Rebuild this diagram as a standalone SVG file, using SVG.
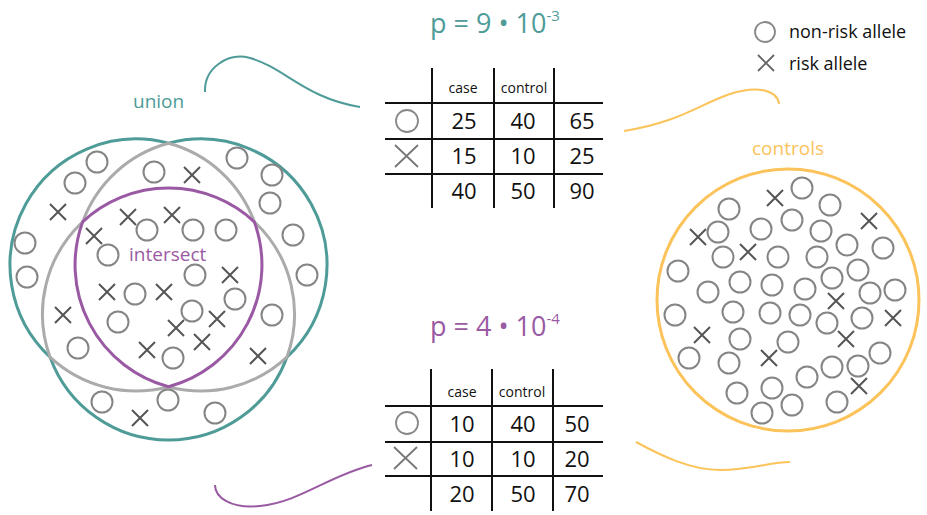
<svg xmlns="http://www.w3.org/2000/svg" width="927" height="515" viewBox="0 0 927 515">
<style>
.o{fill:none;stroke:#858585;stroke-width:2}
.x{stroke:#555;stroke-width:2;fill:none}
.g{stroke:#111;stroke-width:2;fill:none}
.t{font-family:"Open Sans","Liberation Sans",sans-serif;fill:#111}
.big{font-size:22px;text-anchor:middle}
.hd{font-size:14px;text-anchor:middle}
</style>
<defs>
<circle id="c" r="10.5" class="o"/>
<path id="k" d="M-8,-8L8,8M8,-8L-8,8" class="x"/>
</defs>
<rect width="927" height="515" fill="#fff"/>

<g id="venn">
<path d="M168.5,143.3 A126,126 0 0 0 50.1,357.2 A126,126 0 0 0 286.9,357.2 A126,126 0 0 0 168.5,143.3 Z" fill="none" stroke="#4E9B98" stroke-width="3"/>
<path d="M168.5,143.3 A126,126 0 0 0 82.7,221.8 A126,126 0 0 0 50.1,357.2 A126,126 0 0 0 168.5,386.7 A126,126 0 0 0 286.9,357.2 A126,126 0 0 0 254.3,221.8 A126,126 0 0 0 168.5,143.3 Z" fill="none" stroke="#ABABAB" stroke-width="3"/>
<path d="M82.7,221.8 A126,126 0 0 1 254.3,221.8 A126,126 0 0 1 168.5,386.7 A126,126 0 0 1 82.7,221.8 Z" fill="none" stroke="#9A5AA3" stroke-width="3"/>
<text x="133" y="108" font-family="Open Sans, Liberation Sans, sans-serif" font-size="19" fill="#4E9B98">union</text>
<text x="129" y="261" font-family="Open Sans, Liberation Sans, sans-serif" font-size="19" fill="#9A5AA3">intersect</text>
<use href="#c" x="97" y="162"/><use href="#c" x="75" y="183"/><use href="#c" x="154" y="172"/>
<use href="#c" x="237" y="158"/><use href="#c" x="272" y="175"/><use href="#c" x="270" y="203"/>
<use href="#c" x="147" y="230"/><use href="#c" x="193" y="230"/><use href="#c" x="226" y="230"/>
<use href="#c" x="293" y="235"/><use href="#c" x="25" y="243"/><use href="#c" x="108" y="255"/>
<use href="#c" x="27" y="277"/><use href="#c" x="135" y="294"/><use href="#c" x="195" y="275"/>
<use href="#c" x="307" y="275"/><use href="#c" x="235" y="299"/><use href="#c" x="192" y="311"/>
<use href="#c" x="272" y="315"/><use href="#c" x="118" y="322"/><use href="#c" x="78" y="348"/>
<use href="#c" x="173" y="358"/><use href="#c" x="102" y="402"/><use href="#c" x="168" y="400"/>
<use href="#c" x="215" y="413"/>
<use href="#k" x="58" y="212"/><use href="#k" x="128" y="217"/><use href="#k" x="192" y="175"/>
<use href="#k" x="172" y="215"/><use href="#k" x="94" y="236"/><use href="#k" x="230" y="275"/>
<use href="#k" x="107" y="292"/><use href="#k" x="164" y="292"/><use href="#k" x="63" y="315"/>
<use href="#k" x="217" y="319"/><use href="#k" x="176" y="328"/><use href="#k" x="202" y="342"/>
<use href="#k" x="147" y="350"/><use href="#k" x="258" y="356"/><use href="#k" x="140" y="418"/>
</g>

<g id="controls">
<circle cx="788" cy="300" r="131" fill="none" stroke="#FBC35A" stroke-width="3"/>
<text x="752" y="155" font-family="Open Sans, Liberation Sans, sans-serif" font-size="19" fill="#FBC35A">controls</text>
<use href="#c" x="729" y="209"/><use href="#c" x="718" y="232"/><use href="#c" x="761" y="229"/>
<use href="#c" x="792" y="220"/><use href="#c" x="802" y="188"/><use href="#c" x="830" y="205"/>
<use href="#c" x="821" y="231"/><use href="#c" x="847" y="245"/><use href="#c" x="883" y="248"/>
<use href="#c" x="723" y="257"/><use href="#c" x="778" y="257"/><use href="#c" x="817" y="257"/>
<use href="#c" x="858" y="270"/><use href="#c" x="678" y="271"/><use href="#c" x="740" y="282"/>
<use href="#c" x="772" y="285"/><use href="#c" x="805" y="289"/><use href="#c" x="832" y="278"/>
<use href="#c" x="870" y="293"/><use href="#c" x="895" y="290"/><use href="#c" x="708" y="292"/>
<use href="#c" x="675" y="315"/><use href="#c" x="733" y="312"/><use href="#c" x="770" y="313"/>
<use href="#c" x="800" y="315"/><use href="#c" x="827" y="323"/><use href="#c" x="862" y="318"/>
<use href="#c" x="740" y="339"/><use href="#c" x="788" y="342"/><use href="#c" x="880" y="353"/>
<use href="#c" x="689" y="358"/><use href="#c" x="729" y="363"/><use href="#c" x="832" y="367"/>
<use href="#c" x="858" y="366"/><use href="#c" x="737" y="393"/><use href="#c" x="772" y="388"/>
<use href="#c" x="807" y="377"/><use href="#c" x="762" y="413"/><use href="#c" x="792" y="405"/>
<use href="#c" x="837" y="402"/>
<use href="#k" x="775" y="198"/><use href="#k" x="869" y="221"/><use href="#k" x="698" y="237"/>
<use href="#k" x="748" y="252"/><use href="#k" x="836" y="301"/><use href="#k" x="893" y="318"/>
<use href="#k" x="702" y="335"/><use href="#k" x="846" y="339"/><use href="#k" x="769" y="358"/>
<use href="#k" x="859" y="386"/>
</g>

<g id="table1">
<text x="430" y="33" font-family="Open Sans, Liberation Sans, sans-serif" font-size="27" fill="#4E9B98">p = 9 • 10<tspan font-size="15" dy="-12">-3</tspan></text>
<path class="g" d="M432,68V208M494,68V208M554,68V208M385,103H603M385,139H603M385,174H603"/>
<text class="t hd" x="463" y="93">case</text>
<text class="t hd" x="524" y="93">control</text>
<circle cx="407" cy="121" r="11" fill="none" stroke="#888" stroke-width="1.8"/>
<path d="M395,145L418,167M418,145L395,167" stroke="#777" stroke-width="1.8"/>
<text class="t big" x="464" y="129">25</text><text class="t big" x="523" y="129">40</text><text class="t big" x="582" y="129">65</text>
<text class="t big" x="464" y="164">15</text><text class="t big" x="523" y="164">10</text><text class="t big" x="582" y="164">25</text>
<text class="t big" x="464" y="199">40</text><text class="t big" x="523" y="199">50</text><text class="t big" x="582" y="199">90</text>
</g>

<g id="table2">
<text x="430" y="336" font-family="Open Sans, Liberation Sans, sans-serif" font-size="27" fill="#9A5AA3">p = 4 • 10<tspan font-size="15" dy="-12">-4</tspan></text>
<path class="g" d="M431,369V511M492,369V511M553,369V511M385,406H603M385,442H603M385,476H603"/>
<text class="t hd" x="462" y="397">case</text>
<text class="t hd" x="522" y="397">control</text>
<circle cx="407" cy="423" r="11" fill="none" stroke="#888" stroke-width="1.8"/>
<path d="M394,447L417,469M417,447L394,469" stroke="#777" stroke-width="1.8"/>
<text class="t big" x="462" y="432">10</text><text class="t big" x="523" y="432">40</text><text class="t big" x="577" y="432">50</text>
<text class="t big" x="462" y="467">10</text><text class="t big" x="523" y="467">10</text><text class="t big" x="577" y="467">20</text>
<text class="t big" x="462" y="502">20</text><text class="t big" x="523" y="502">50</text><text class="t big" x="577" y="502">70</text>
</g>

<g id="legend">
<circle cx="765" cy="32" r="10" fill="none" stroke="#888" stroke-width="1.8"/>
<text class="t" x="789" y="38" font-size="18">non-risk allele</text>
<path d="M758,55L774,71M774,55L758,71" stroke="#666" stroke-width="1.8"/>
<text class="t" x="789" y="70" font-size="18">risk allele</text>
</g>

<g id="connectors" fill="none" stroke-width="2">
<path d="M205,92 C204,68 228,52 250,58 C285,68 305,98 360,107" stroke="#4E9B98"/>
<path d="M624,131 C680,122 700,104 730,94 C760,84 778,92 779,104" stroke="#FBC35A"/>
<path d="M372,465 C330,475 300,502 260,506 C230,509 215,497 215,485" stroke="#9A5AA3"/>
<path d="M636,442 C660,455 690,470 720,470 C752,470 770,462 790,462" stroke="#FBC35A"/>
</g>
</svg>
